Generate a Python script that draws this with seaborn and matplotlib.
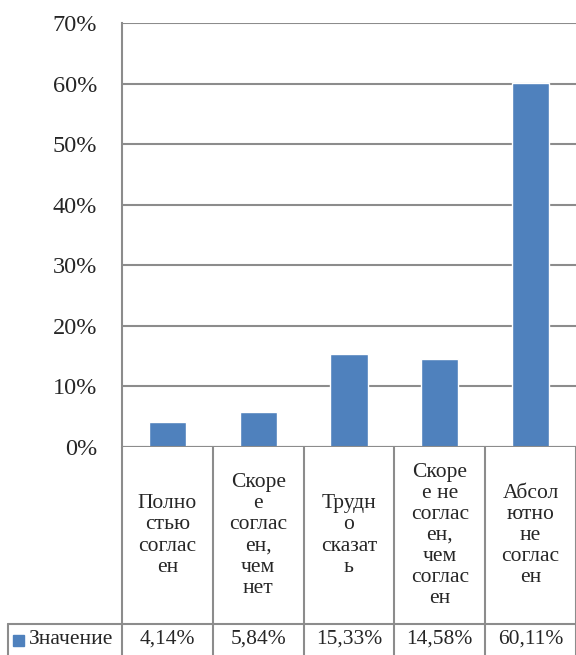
import matplotlib
matplotlib.use("Agg")
import matplotlib.pyplot as plt
import seaborn as sns
import pandas as pd
from matplotlib.ticker import PercentFormatter

categories = ["Полно\nстью\nсоглас\nен",
              "Скоре\nе\nсоглас\nен,\nчем\nнет",
              "Трудн\nо\nсказат\nь",
              "Скоре\nе не\nсоглас\nен,\nчем\nсоглас\nен",
              "Абсол\nютно\nне\nсоглас\nен"]
values = [4.14, 5.84, 15.33, 14.58, 60.11]
value_labels = ["4,14%", "5,84%", "15,33%", "14,58%", "60,11%"]
series_name = "Значение"
yticks = [0, 10, 20, 30, 40, 50, 60, 70]

sns.set_style("white")
plt.rcParams['font.family'] = ['Liberation Serif', 'DejaVu Serif']

W, H = 576, 655
fig = plt.figure(figsize=(W / 100, H / 100), dpi=100)

x0, x1 = 122, 576
ytop, ybot = 23, 447
ax = fig.add_axes([x0 / W, (H - ybot) / H, (x1 - x0) / W, (ybot - ytop) / H])

df = pd.DataFrame({"cat": list(range(len(values))), "val": values})
bar_color = "#4f81bd"
sns.barplot(data=df, x="cat", y="val", color=bar_color, width=0.41,
            saturation=1, ax=ax, zorder=3)
ax.set_xlim(-0.5, len(values) - 0.5)
ax.set_ylim(0, 70)
ax.set_yticks(yticks)
ax.yaxis.set_major_formatter(PercentFormatter(decimals=0))
ax.tick_params(axis='y', labelsize=17.5, length=0, pad=18)
ax.set_xticks([])
ax.set_xlabel("")
ax.set_ylabel("")
grid_c = "#8c8c8c"
ax.grid(axis='y', color=grid_c, linewidth=1.5, zorder=0)
for s in ["top", "right", "bottom"]:
    ax.spines[s].set_visible(False)
ax.spines["left"].set_color(grid_c)
ax.spines["left"].set_linewidth(1.5)
ax.axhline(0, color=grid_c, linewidth=1.5, zorder=4)

# data table below
tl = 8
unit = (x1 - x0) / len(values)
left_data = -0.5 - (x0 - tl) / unit
th = H - ybot
tax = fig.add_axes([tl / W, 0, (W - tl) / W, th / H])
tax.set_xlim(left_data, len(values) - 0.5)
tax.set_ylim(0, th)
tax.axis("off")
row_y = H - 624  # 31
line_c = "#8c8c8c"
for i in range(len(values) + 1):
    tax.plot([i - 0.5, i - 0.5], [0, th], color=line_c, lw=1.5, clip_on=False)
tax.plot([left_data, left_data], [0, row_y], color=line_c, lw=1.5, clip_on=False)
tax.plot([left_data, len(values) - 0.5], [row_y, row_y], color=line_c, lw=1.5, clip_on=False)

for i, (c, v) in enumerate(zip(categories, value_labels)):
    tax.text(i, (th + row_y) / 2, c, ha="center", va="center",
             fontsize=15.5, linespacing=1.15)
    tax.text(i, row_y / 2, v, ha="center", va="center", fontsize=15.5)

# legend key
fig.patches.append(plt.Rectangle((13 / W, (H - 646) / H), 11 / W, 11 / H,
                                 transform=fig.transFigure, color=bar_color))
fig.text(29 / W, (H - 640) / H, series_name, ha="left", va="center", fontsize=15.5)

fig.savefig("out.png", dpi=100)
